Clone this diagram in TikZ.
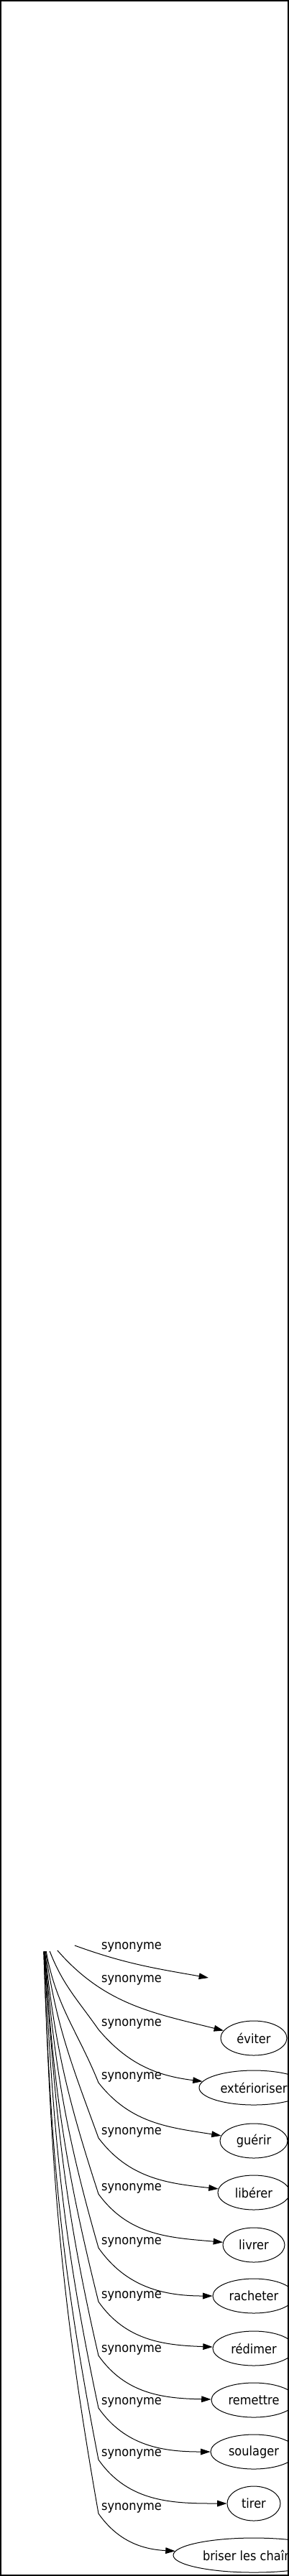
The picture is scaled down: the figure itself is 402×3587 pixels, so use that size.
\documentclass[tikz,border=0pt]{standalone}
\usepackage{fontspec}
\setmainfont{DejaVu Sans}[FakeStretch=0.9]
\usetikzlibrary{shapes.geometric,arrows.meta}

\begin{document}
\begin{tikzpicture}[x=0.75pt,y=-0.75pt,
  word/.style={draw,ellipse,line width=0.75pt,minimum height=36pt,inner sep=1pt,font=\fontsize{13.5pt}{16pt}\selectfont},
  syn/.style={inner sep=0pt,font=\fontsize{13.5pt}{16pt}\selectfont},
  rel/.style={line width=0.75pt,-{Triangle[length=10pt,width=6.5pt]}}]
\clip (0,0) rectangle (402,3587);

\coordinate (T1) at (290,2754);
\coordinate (B3) at (137,2826);
\coordinate (B4) at (137,2900);
\coordinate (B5) at (137,2977);
\coordinate (B6) at (137,3055);
\coordinate (B7) at (137,3130);
\coordinate (B8) at (137,3205);
\coordinate (B9) at (137,3280);
\coordinate (B10) at (137,3353);
\coordinate (B11) at (137,3425);
\coordinate (B12) at (137,3500);

\node[ellipse,minimum width=87pt,minimum height=36pt] (S) at (60,2693) {};

\node[word,minimum width=69pt]    (W2)  at (353,2838) {éviter};
\node[word,minimum width=114pt]   (W3)  at (353,2907) {extérioriser};
\node[word,minimum width=70.5pt]  (W4)  at (353,2981) {guérir};
\node[word,minimum width=75pt]    (W5)  at (353,3053) {libérer};
\node[word,minimum width=64.5pt]  (W6)  at (353,3126) {livrer};
\node[word,minimum width=85.5pt]  (W7)  at (353,3197) {racheter};
\node[word,minimum width=85.5pt]  (W8)  at (353,3270) {rédimer};
\node[word,minimum width=88.5pt]  (W9)  at (353,3342) {remettre};
\node[word,minimum width=90pt]    (W10) at (353,3414) {soulager};
\node[word,minimum width=55.5pt]  (W11) at (353,3486) {tirer};
\node[word,minimum width=168pt]   (W12) at (353,3558) {briser les chaînes};

\node[syn] (L1)  at (183,2711) {synonyme};
\node[syn] (L2)  at (183,2757) {synonyme};
\node[syn] (L3)  at (183,2818) {synonyme};
\node[syn] (L4)  at (183,2892) {synonyme};
\node[syn] (L5)  at (183,2969) {synonyme};
\node[syn] (L6)  at (183,3047) {synonyme};
\node[syn] (L7)  at (183,3122) {synonyme};
\node[syn] (L8)  at (183,3197) {synonyme};
\node[syn] (L9)  at (183,3272) {synonyme};
\node[syn] (L10) at (183,3345) {synonyme};
\node[syn] (L11) at (183,3417) {synonyme};
\node[syn] (L12) at (183,3492) {synonyme};

\draw[rel] (S) to[out=-20,in=170] (T1);
\draw[rel] (S) to[out=-49,in=166] (W2);
\draw[rel] (S) to[out=-69,in=125] (B3)  to[out=-50,in=173] (W3);
\draw[rel] (S) to[out=-80,in=112] (B4)  to[out=-52,in=171] (W4);
\draw[rel] (S) to[out=-82,in=110] (B5)  to[out=-53,in=174] (W5);
\draw[rel] (S) to[out=-84,in=108] (B6)  to[out=-54,in=175] (W6);
\draw[rel] (S) to[out=-85,in=106] (B7)  to[out=-55,in=180] (W7);
\draw[rel] (S) to[out=-86,in=104] (B8)  to[out=-55,in=178] (W8);
\draw[rel] (S) to[out=-86,in=103] (B9)  to[out=-55,in=179] (W9);
\draw[rel] (S) to[out=-87,in=102] (B10) to[out=-55,in=180] (W10);
\draw[rel] (S) to[out=-88,in=101] (B11) to[out=-55,in=180] (W11);
\draw[rel] (S) to[out=-88,in=100] (B12) to[out=-55,in=177] (W12);

%\draw[dashed] (S) -- (T1);

\draw[line width=1.1pt] (1,1) rectangle (401,3586);
\end{tikzpicture}
\end{document}
